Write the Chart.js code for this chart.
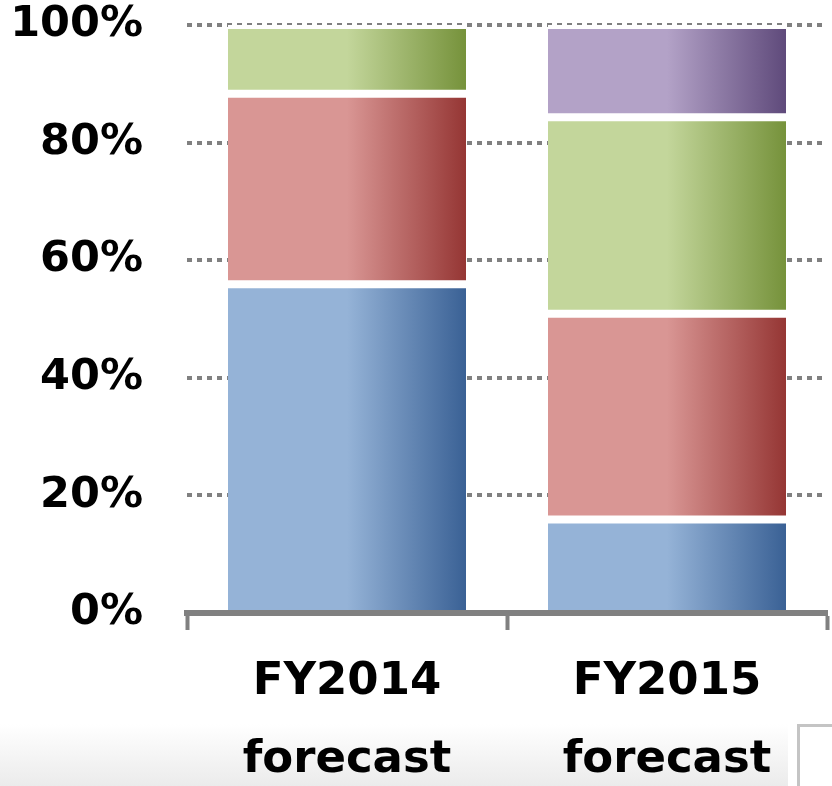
<!DOCTYPE html>
<html>
<head>
<meta charset="utf-8">
<script src="https://cdn.jsdelivr.net/npm/chart.js@4.4.1/dist/chart.umd.min.js"></script>
<style>
  html, body { margin: 0; padding: 0; background: #ffffff; overflow: hidden; }
  #wrap { position: relative; width: 832px; height: 796px; }
  #band { position: absolute; left: 0; top: 724px; width: 788px; height: 72px;
          background: linear-gradient(to bottom, #ffffff, #e8e8e8); }
  #box { position: absolute; left: 797px; top: 724px; width: 60px; height: 80px;
         border: 3px solid #c4c4c4; background: #ffffff; }
  #chartBox { position: absolute; left: 0; top: 0; width: 832px; height: 796px; }
</style>
</head>
<body>
<div id="wrap">
  <div id="band"></div>
  <div id="box"></div>
  <div id="chartBox"><canvas id="shareChart"></canvas></div>
</div>
<script>
const categories = [['FY2014', 'forecast'], ['FY2015', 'forecast']];
const blueValues = [55.9, 15.9];
const redValues = [32.4, 35.0];
const greenValues = [11.7, 33.4];
const purpleValues = [null, 15.7];
const yTicks = [0, 20, 40, 60, 80, 100];

const barPct = 0.744;

function barGradient(light, dark) {
    return function (context) {
        const chart = context.chart;
        const xScale = chart.scales.x;
        if (!chart.chartArea || !xScale || context.dataIndex === undefined) {
            return light;
        }
        const cx = xScale.getPixelForValue(context.dataIndex);
        const half = xScale.width / categories.length * barPct / 2;
        const g = chart.ctx.createLinearGradient(cx - half, 0, cx + half, 0);
        g.addColorStop(0, light);
        g.addColorStop(0.5, light);
        g.addColorStop(1, dark);
        return g;
    };
}

function makeSet(label, values, light, dark, isBottom) {
    return {
        label: label,
        data: values,
        backgroundColor: barGradient(light, dark),
        borderColor: '#ffffff',
        borderWidth: { top: 4, bottom: isBottom ? 0 : 4, left: 0, right: 0 },
        borderSkipped: false,
        barPercentage: barPct,
        categoryPercentage: 1
    };
}

const ctx = document.getElementById('shareChart').getContext('2d');
new Chart(ctx, {
    type: 'bar',
    data: {
        labels: categories,
        datasets: [
            makeSet('Blue', blueValues, '#95b3d7', '#3a6195', true),
            makeSet('Red', redValues, '#d99694', '#953634', false),
            makeSet('Green', greenValues, '#c3d69b', '#76923b', false),
            makeSet('Purple', purpleValues, '#b3a2c7', '#5f4a7b', false)
        ]
    },
    options: {
        responsive: true,
        maintainAspectRatio: false,
        animation: false,
        layout: { padding: { left: 13, right: 5, top: 0, bottom: 0 } },
        plugins: {
            legend: { display: false },
            tooltip: { enabled: false }
        },
        scales: {
            x: {
                stacked: true,
                afterFit: function (scale) {
                    scale.height = 183;
                },
                grid: {
                    offset: true,
                    drawOnChartArea: false,
                    drawTicks: true,
                    tickLength: 17,
                    tickWidth: 4,
                    tickColor: '#808080'
                },
                border: { display: true, width: 6, color: '#808080', z: 1 },
                ticks: {
                    color: '#000000',
                    padding: 14,
                    maxRotation: 0,
                    font: { family: 'DejaVu Sans', size: 45, weight: 'bold', lineHeight: 1.72 }
                }
            },
            y: {
                stacked: true,
                min: 0,
                max: 100,
                afterBuildTicks: function (scale) {
                    scale.ticks = yTicks.map(v => ({ value: v }));
                },
                afterFit: function (scale) {
                    scale.width = 174;
                    scale.paddingTop = 25;
                    scale.paddingBottom = 2;
                },
                grid: {
                    color: '#808080',
                    lineWidth: 4,
                    drawTicks: false
                },
                border: { display: false, dash: [5, 5] },
                ticks: {
                    color: '#000000',
                    padding: 44,
                    callback: v => v + '%',
                    font: { family: 'DejaVu Sans', size: 43, weight: 'bold' }
                }
            }
        }
    }
});
</script>
</body>
</html>
